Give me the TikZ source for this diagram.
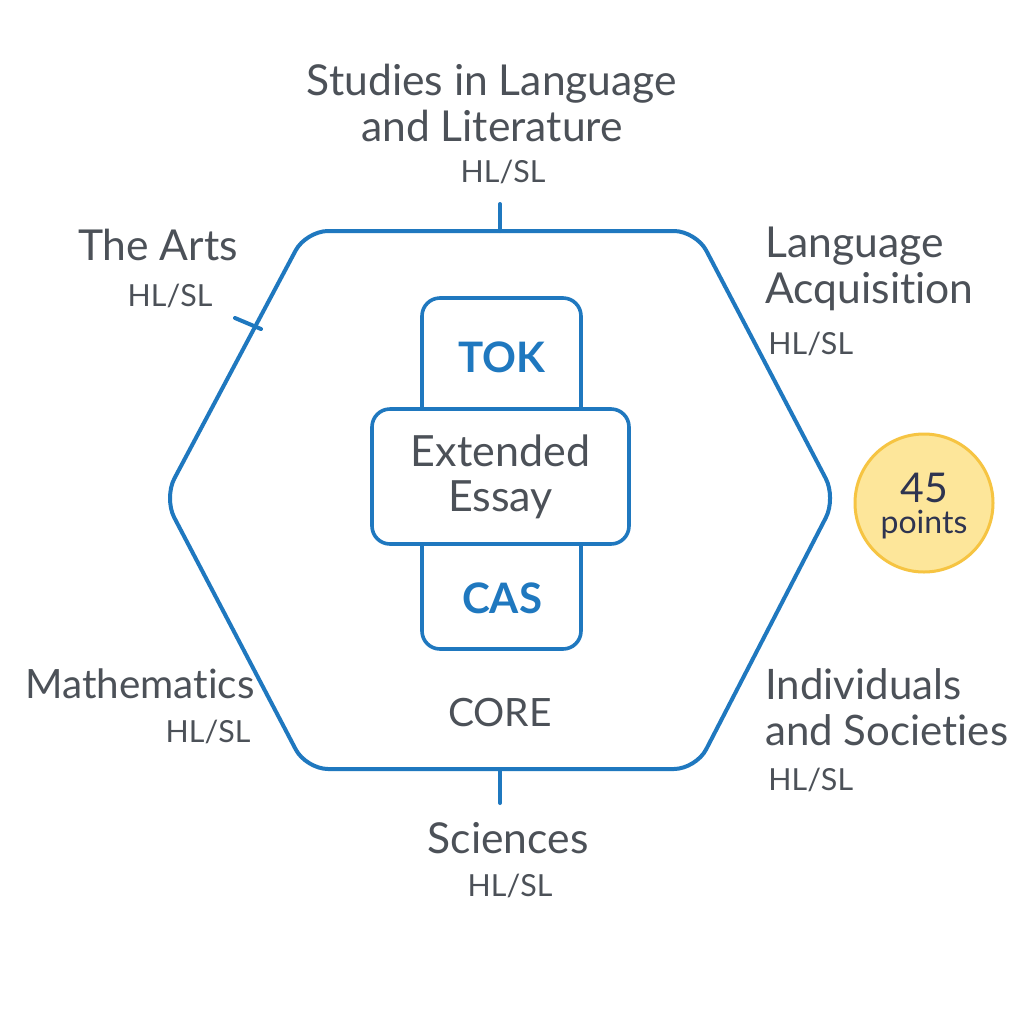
\documentclass[tikz,border=0pt]{standalone}
\usepackage{fontspec}
\setmainfont{Lato}[Ligatures={NoCommon}]
\usepackage{tikz}
\usetikzlibrary{positioning}
\definecolor{ibblue}{RGB}{31,120,191}
\definecolor{ibtext}{RGB}{76,81,88}
\definecolor{ibnavy}{RGB}{46,52,80}
\definecolor{ibgold}{RGB}{246,196,66}
\definecolor{ibcream}{RGB}{253,230,154}
\tikzset{
  subject/.style={text=ibtext,font=\fontsize{21.3}{23}\selectfont,align=center,inner sep=0pt},
  level/.style={text=ibtext,font=\fontsize{15.2}{16}\selectfont,inner sep=0pt},
  corebox/.style={draw=ibblue,line width=1.8pt,rounded corners=9pt,inner sep=0pt},
  tick/.style={draw=ibblue,line width=2pt,line cap=round}
}
\begin{document}
\begin{tikzpicture}[x=.5pt,y=-.5pt]
      \useasboundingbox[fill=white] (0,0) rectangle (1024,1024);
      % hexagon
      \coordinate (htl) at (306,231);
      \coordinate (htr) at (696,231);
      \coordinate (hr) at (836,498);
      \coordinate (hbr) at (696,769);
      \coordinate (hbl) at (306,769);
      \coordinate (hl) at (164,498);
      \draw[ibblue,line width=2pt,rounded corners=11pt]
        (htl)--(htr)--(hr)--(hbr)--(hbl)--(hl)--cycle;
      % ticks
      \coordinate (ttop) at (500,231);
      \coordinate (ttopend) at (500,204);
      \coordinate (tbot) at (500,769);
      \coordinate (tbotend) at (500,803);
      \coordinate (tarts) at (261,329);
      \coordinate (tartsend) at (235,318);
      \draw[tick] (ttop)--(ttopend);
      \draw[tick] (tbot)--(tbotend);
      \draw[tick] (tarts)--(tartsend);
      % core
      \node[corebox,minimum width=79.5pt,minimum height=175.5pt] (pillar) at (501.5,473.5) {};
      \node[corebox,fill=white,minimum width=128.5pt,minimum height=67.5pt,
        text=ibtext,font=\fontsize{21.5}{22.5}\selectfont,align=center] (ee) at (500.5,476.5) {Extended\\Essay};
      \node[text=ibblue,font=\bfseries\fontsize{21}{22}\selectfont] (tok) at (502,357) {TOK};
      \node[text=ibblue,font=\bfseries\fontsize{21}{22}\selectfont] (cas) at (502,598) {CAS};
      \node[text=ibtext,font=\fontsize{19.5}{22}\selectfont] (core) at (500,713) {CORE};
      % subjects
      \node[subject] (lit) at (492,103) {Studies in Language\\and Literature};
      \node[level] (litlvl) at (503,172) {HL/SL};
      \node[subject] (arts) at (158,245) {The Arts};
      \node[level] (artslvl) at (170,296) {HL/SL};
      \node[subject,align=left,anchor=west] (acq) at (765,269) {Language\\Acquisition};
      \node[level,anchor=west] (acqlvl) at (768,344) {HL/SL};
      \node[subject,font=\fontsize{20.2}{23}\selectfont] (math) at (140,684) {Mathematics};
      \node[level] (mathlvl) at (208,732) {HL/SL};
      \node[subject,align=left,anchor=west,font=\fontsize{21}{23}\selectfont] (ind) at (765,707) {Individuals\\and Societies};
      \node[level,anchor=west] (indlvl) at (768,780) {HL/SL};
      \node[subject] (sci) at (508,838) {Sciences};
      \node[level] (scilvl) at (510,886) {HL/SL};
      % points
      \node[circle,draw=ibgold,fill=ibcream,line width=1.5pt,minimum size=69pt,inner sep=0pt] (pts) at (924,503) {};
      \node[text=ibnavy,inner sep=0pt,font=\fontsize{20.5}{22}\selectfont] (ptsnum) at (924,488) {45};
      \node[text=ibnavy,inner sep=0pt,font=\fontsize{16}{17}\selectfont] (ptstxt) at (924,525) {points};
    \end{tikzpicture}
\end{document}
